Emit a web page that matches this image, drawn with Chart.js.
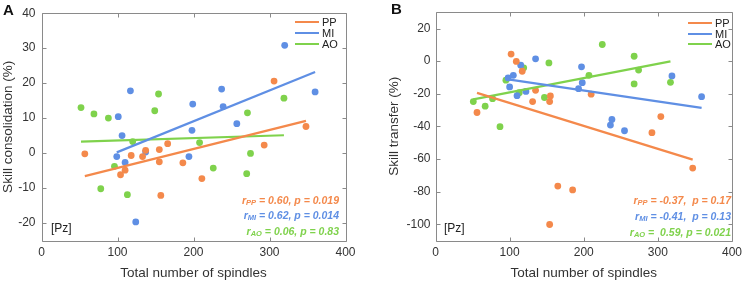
<!DOCTYPE html>
<html>
<head>
<meta charset="utf-8">
<script src="https://cdn.jsdelivr.net/npm/chart.js"></script>
<style>
body { margin: 0; background: #fff; font-family: Arial, "Liberation Sans", sans-serif; }
#wrap { position: relative; width: 747px; height: 282px; overflow: hidden; }
.panel { position: absolute; top: 0; height: 282px; }
.txt { position: absolute; white-space: pre; color: #222; }
.letter { font-weight: bold; font-size: 15px; line-height: 16px; color: #111; }
.pz { font-size: 12px; line-height: 14px; }
.stats { text-align: right; font-weight: bold; font-style: italic; font-size: 10.5px; line-height: 12.7px; }
.stats .sub { font-size: 7.5px; vertical-align: -1px; }
.leg { font-size: 11px; line-height: 11px; }
.leg span.ln { display: inline-block; width: 24px; height: 2px; vertical-align: 3px; margin-right: 3px; }
</style>
</head>
<body>
<div id="wrap">
  <div class="panel" style="left:0;width:370px"><canvas id="chartA" width="370" height="282"></canvas></div>
  <div class="panel" style="left:370px;width:377px"><canvas id="chartB" width="377" height="282"></canvas></div>
</div>
<script>
var groups = ["PP", "MI", "AO"];
var colors = ["#f4894b", "#5f8fe4", "#7fd24c"];
var xTicks = [0, 100, 200, 300, 400];

// panel A - skill consolidation
var spindlesA_PP = [57, 104, 110, 118, 133, 137, 155, 155, 157, 166, 186, 211, 293, 306, 348];
var consolA_PP = [-0.2, -6.2, -4.9, -0.7, -1.0, 0.8, 1.0, -2.5, -12.1, 2.7, -2.8, -7.3, 2.3, 20.6, 7.6];
var spindlesA_MI = [99, 101, 106, 110, 117, 124, 137, 194, 198, 199, 237, 239, 257, 320, 360];
var consolA_MI = [-1.0, 10.4, 5.0, -2.7, 17.8, -19.7, 0.3, -1.0, 6.5, 14.0, 18.3, 13.3, 8.4, 30.8, 17.5];
var spindlesA_AO = [52, 69, 78, 88, 96, 113, 120, 149, 154, 208, 226, 270, 271, 275, 319];
var consolA_AO = [13.0, 11.2, -10.2, 10.0, -3.8, -11.9, 3.3, 12.1, 16.9, 3.0, -4.3, -5.9, 11.5, -0.1, 15.7];
// fit line end points (x0, y0, x1, y1)
var fitA_PP = [57, -6.6, 348, 9.2];
var fitA_MI = [99, 0.2, 360, 23.2];
var fitA_AO = [52, 3.3, 319, 5.1];
var yTicksA = [-20, -10, 0, 10, 20, 30, 40];
var statsA = ["= 0.60, p = 0.019", "= 0.62, p = 0.014", "= 0.06, p = 0.83"];

// panel B - skill transfer
var spindlesB_PP = [56, 102, 109, 117, 131, 135, 154, 155, 154, 165, 185, 210, 292, 304, 347];
var transB_PP = [-31.5, 4.3, -0.2, -6.2, -24.8, -17.9, -24.8, -21.4, -100.2, -76.6, -79, -20.3, -43.9, -34, -65.6];
var spindlesB_MI = [98, 100, 105, 110, 115, 122, 135, 193, 197, 198, 236, 238, 255, 319, 359];
var transB_MI = [-10.3, -15.8, -8.7, -21.2, -2.5, -18.6, 1.4, -16.9, -3.5, -13.2, -39.2, -35.8, -42.7, -9.1, -21.8];
var spindlesB_AO = [51, 67, 77, 87, 95, 113, 119, 147, 153, 207, 225, 268, 268, 274, 317];
var transB_AO = [-24.8, -27.6, -23, -40.2, -11.7, -19.4, -4.1, -22.3, -1.1, -8.7, 10.2, 3.0, -14, -5.5, -13];
var fitB_PP = [56, -19.5, 347, -60.4];
var fitB_MI = [98, -11.2, 359, -28.7];
var fitB_AO = [51, -23.5, 317, -0.2];
var yTicksB = [-100, -80, -60, -40, -20, 0, 20];
var statsB = [" = -0.37,  p = 0.17", " = -0.41,  p = 0.13", "=  0.59, p = 0.021"];

Chart.defaults.font.family = 'Arial, "Liberation Sans", sans-serif';
Chart.defaults.color = "#333";
Chart.defaults.animation = false;

// box round the plot with inward tick marks on all four sides
var boxPlugin = {
  id: "box",
  afterDraw: function (chart) {
    var ctx = chart.ctx, a = chart.chartArea;
    var xs = chart.scales.x, ys = chart.scales.y;
    var L = Math.round(a.left) + 0.5, R = Math.round(a.right) + 0.5;
    var T = Math.round(a.top) + 0.5, B = Math.round(a.bottom) + 0.5;
    ctx.save();
    ctx.strokeStyle = "#8a8a8a";
    ctx.lineWidth = 1;
    ctx.beginPath();
    ctx.rect(L, T, R - L, B - T);
    xs.ticks.forEach(function (t) {
      var p = Math.round(xs.getPixelForValue(t.value)) + 0.5;
      ctx.moveTo(p, B); ctx.lineTo(p, B - 4);
      ctx.moveTo(p, T); ctx.lineTo(p, T + 4);
    });
    ys.ticks.forEach(function (t) {
      var p = Math.round(ys.getPixelForValue(t.value)) + 0.5;
      ctx.moveTo(L, p); ctx.lineTo(L + 4, p);
      ctx.moveTo(R, p); ctx.lineTo(R - 4, p);
    });
    ctx.stroke();
    ctx.restore();
  }
};

function toPoints(xs, ys) {
  return xs.map(function (x, i) { return { x: x, y: ys[i] }; });
}

function makeDatasets(xLists, yLists, fits) {
  var sets = [];
  groups.forEach(function (g, i) {
    sets.push({
      label: g + " data",
      data: toPoints(xLists[i], yLists[i]),
      backgroundColor: colors[i],
      pointRadius: 3.4,
      pointHoverRadius: 3.4,
      pointBorderWidth: 0,
      order: 1
    });
  });
  groups.forEach(function (g, i) {
    var f = fits[i];
    sets.push({
      label: g,
      data: [{ x: f[0], y: f[1] }, { x: f[2], y: f[3] }],
      showLine: true,
      borderColor: colors[i],
      borderWidth: 2.2,
      pointRadius: 0,
      fill: false,
      order: 0
    });
  });
  return sets;
}

function makeChart(id, datasets, yMin, yMax, yTicks, yTitle, yWidth, pad, tickPad) {
  return new Chart(document.getElementById(id), {
    type: "scatter",
    data: { datasets: datasets },
    plugins: [boxPlugin],
    options: {
      responsive: false,
      devicePixelRatio: 1,
      layout: { padding: pad },
      plugins: { legend: { display: false }, tooltip: { enabled: false } },
      scales: {
        x: {
          type: "linear",
          min: 0,
          max: 400,
          afterBuildTicks: function (s) { s.ticks = xTicks.map(function (v) { return { value: v }; }); },
          afterFit: function (s) { s.height = 41.5; },
          grid: { display: false, drawTicks: false },
          border: { display: false },
          ticks: { font: { size: 12 }, padding: 5, color: "#333" },
          title: { display: true, text: "Total number of spindles", font: { size: 13.5 }, color: "#333", padding: { top: 0, bottom: 1 } }
        },
        y: {
          type: "linear",
          min: yMin,
          max: yMax,
          afterBuildTicks: function (s) { s.ticks = yTicks.map(function (v) { return { value: v }; }); },
          afterFit: function (s) { s.width = yWidth; },
          grid: { display: false, drawTicks: false },
          border: { display: false },
          ticks: { font: { size: 12 }, padding: tickPad, color: "#333" },
          title: { display: true, text: yTitle, font: { size: 13.5 }, color: "#333", padding: { top: 0, bottom: 0 } }
        }
      }
    }
  });
}

makeChart("chartA",
  makeDatasets([spindlesA_PP, spindlesA_MI, spindlesA_AO], [consolA_PP, consolA_MI, consolA_AO], [fitA_PP, fitA_MI, fitA_AO]),
  -25, 40, yTicksA, "Skill consolidation (%)", 41.5, { left: 0, top: 10, right: 24.5, bottom: 0 }, 6);

makeChart("chartB",
  makeDatasets([spindlesB_PP, spindlesB_MI, spindlesB_AO], [transB_PP, transB_MI, transB_AO], [fitB_PP, fitB_MI, fitB_AO]),
  -110, 30, yTicksB, "Skill transfer (%)", 49.5, { left: 16, top: 11, right: 9.3, bottom: 0 }, 5);

// text overlays: panel letters, legends, electrode tags, r / p values
var wrap = document.getElementById("wrap");
function addText(cls, html, style) {
  var d = document.createElement("div");
  d.className = "txt " + cls;
  d.innerHTML = html;
  for (var k in style) d.style[k] = style[k];
  wrap.appendChild(d);
  return d;
}

addText("letter", "A", { left: "3px", top: "2px" });
addText("letter", "B", { left: "391px", top: "1px" });
addText("pz", "[Pz]", { left: "51px", top: "221px" });
addText("pz", "[Pz]", { left: "444px", top: "221px" });

var legA = [23.3, 33.8, 45], legB = [24, 34.7, 45.3];
groups.forEach(function (g, i) {
  var line = '<span class="ln" style="background:' + colors[i] + '"></span>' + g;
  addText("leg", line, { left: "295px", top: (legA[i] - 6) + "px" });
  addText("leg", line, { left: "688px", top: (legB[i] - 6) + "px" });
});

function statsHtml(list) {
  return groups.map(function (g, i) {
    return '<span style="color:' + colors[i] + '">r<span class="sub">' + g + '</span> ' + list[i] + '</span>';
  }).join("<br>");
}
addText("stats", statsHtml(statsA), { right: "408px", top: "193.5px" });
addText("stats", statsHtml(statsB.map(function (s) { return s.replace(/^ /, ""); })), { right: "16px", top: "194.2px" });
</script>
</body>
</html>
